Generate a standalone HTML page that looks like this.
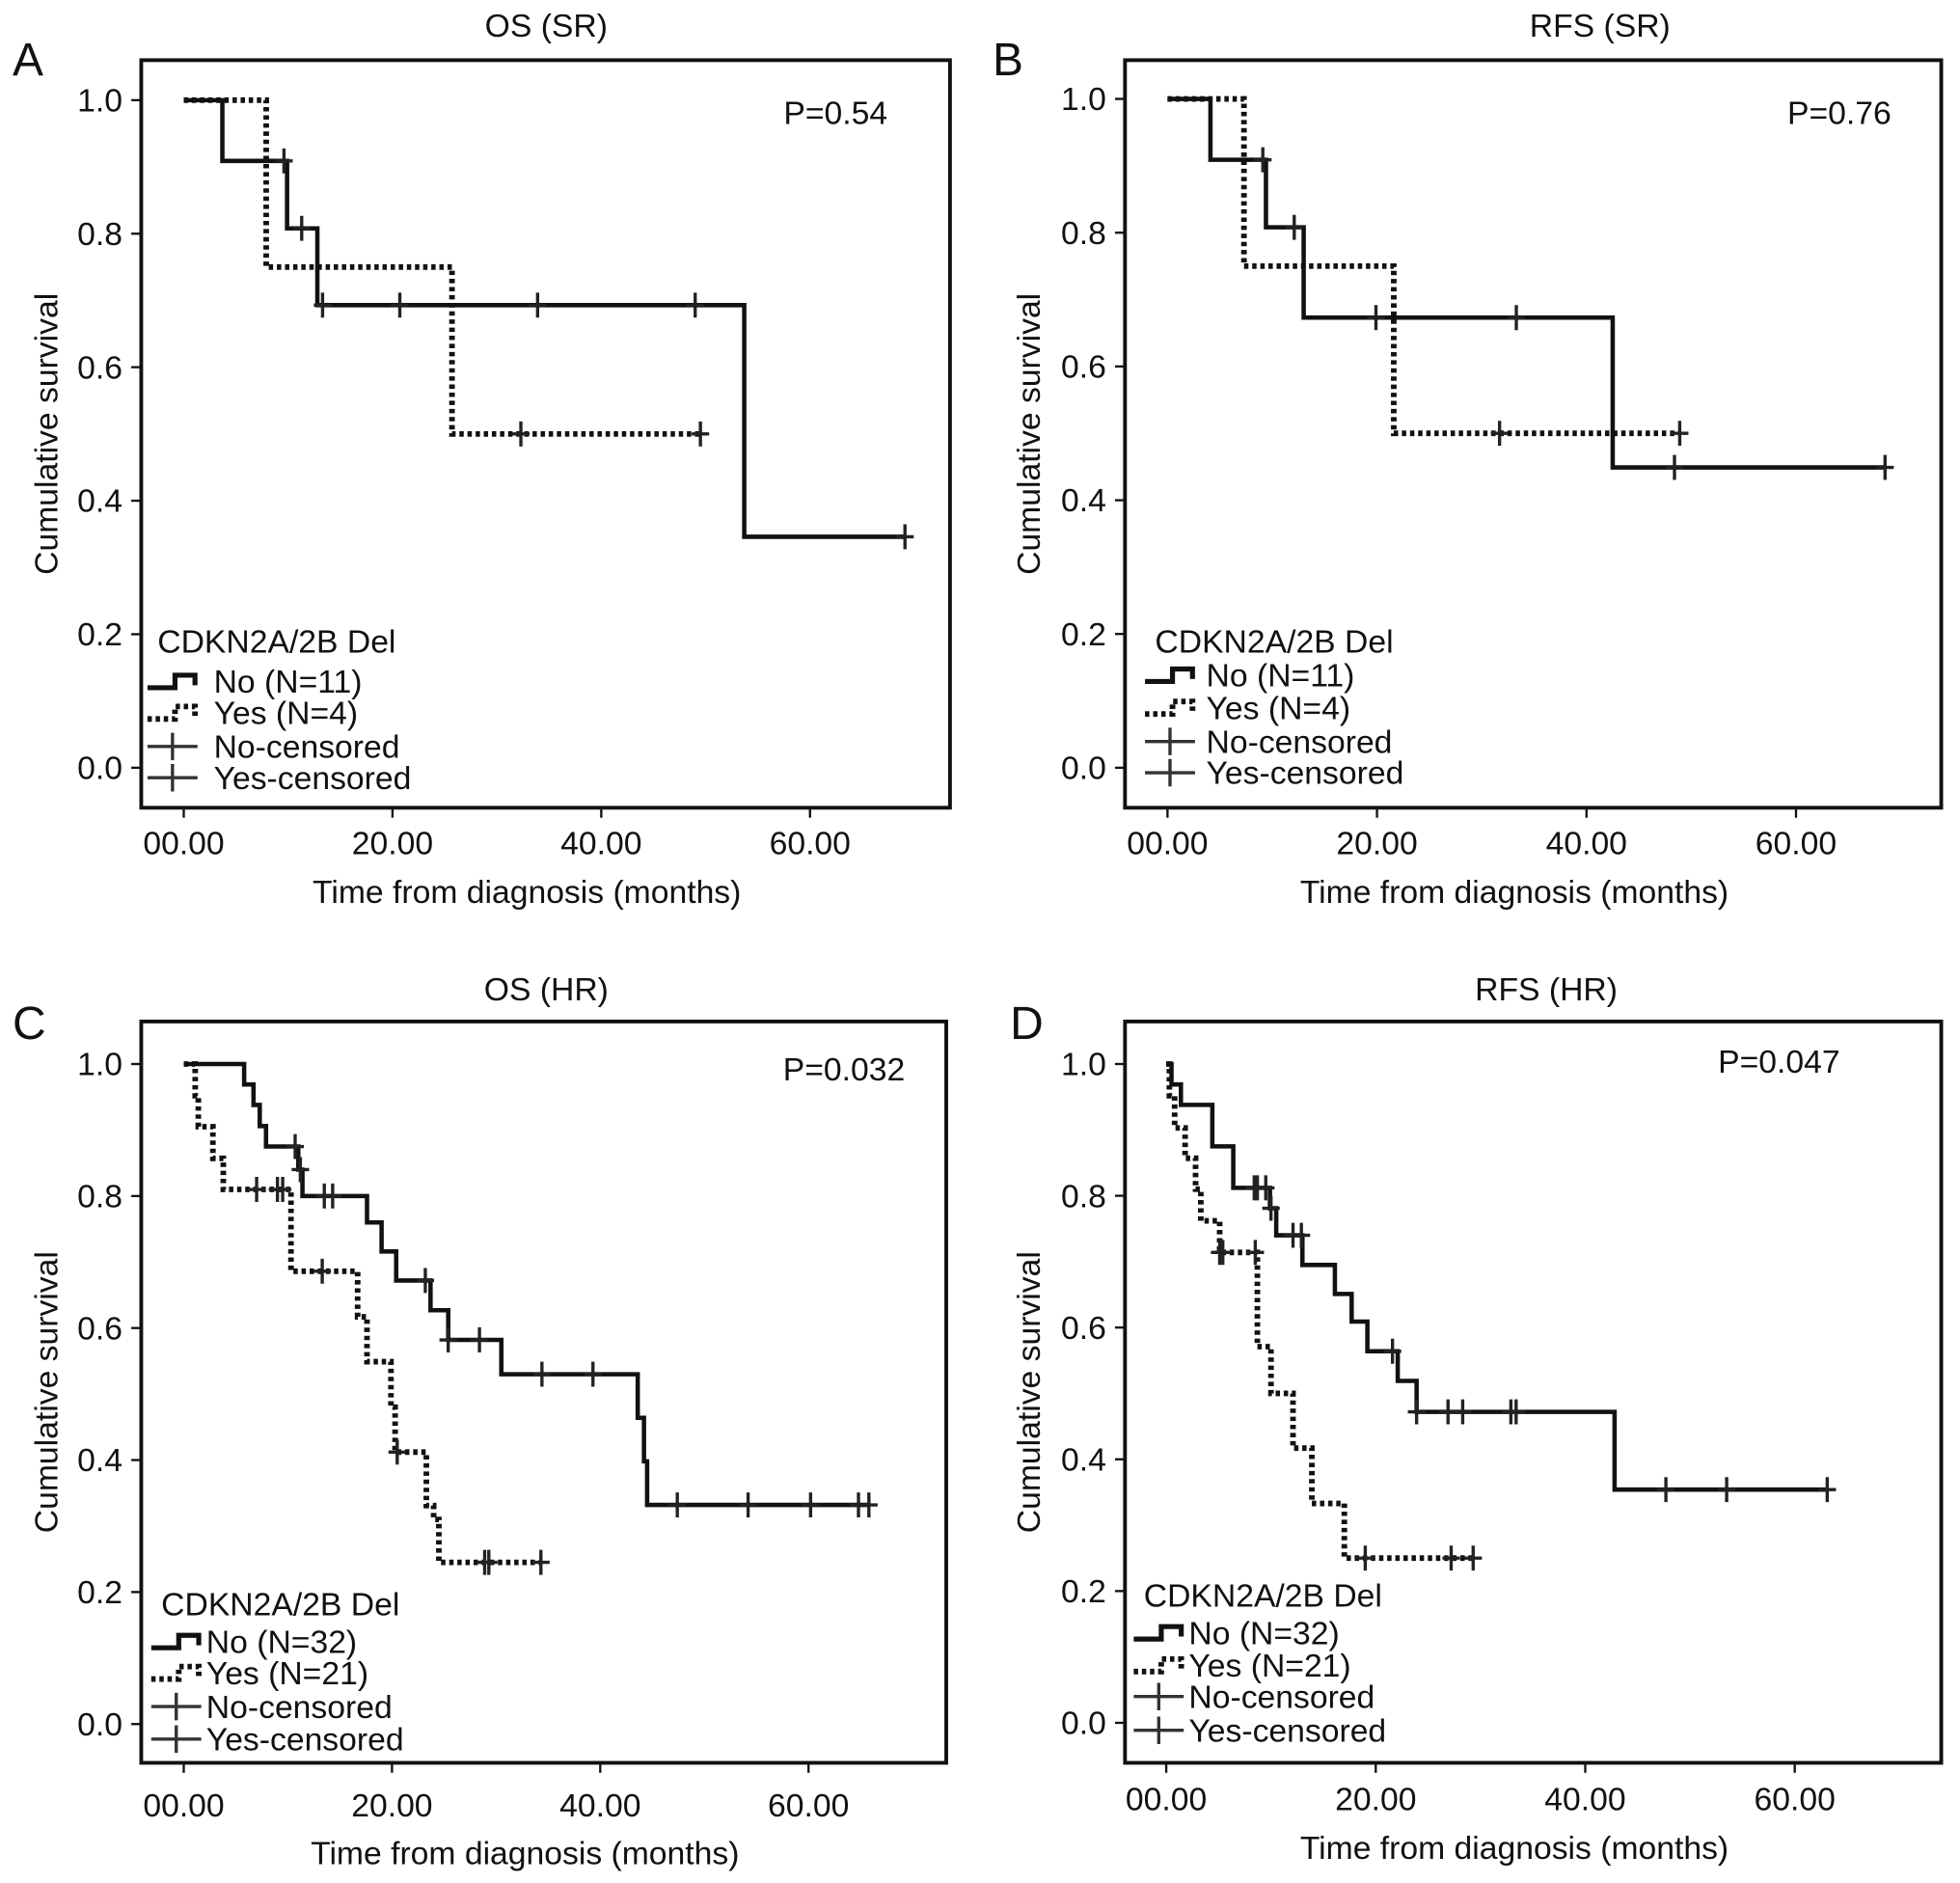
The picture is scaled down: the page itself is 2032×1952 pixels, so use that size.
<!DOCTYPE html>
<html><head><meta charset="utf-8"><style>
html,body{margin:0;padding:0;background:#fff;}
svg{display:block;}
text{font-family:"Liberation Sans",Arial,sans-serif;fill:#111;}
</style></head><body>
<svg id="fig" width="2032" height="1952" viewBox="0 0 1568 1506" xmlns="http://www.w3.org/2000/svg"></svg>
<script>
// ---- data (months, survival) ----
const xTicks = [0, 20, 40, 60];
const xTickLabels = ["00.00", "20.00", "40.00", "60.00"];
const yTicks = [0, 0.2, 0.4, 0.6, 0.8, 1.0];
const yTickLabels = ["0.0", "0.2", "0.4", "0.6", "0.8", "1.0"];

const aNoT = [3.7, 9.9, 12.8, 53.7];
const aNoS = [0.909, 0.808, 0.693, 0.346];
const aNoC = [9.6, 11.3, 13.3, 20.7, 33.9, 49.0, 69.1];
const aYesT = [7.9, 25.7];
const aYesS = [0.75, 0.5];
const aYesC = [32.3, 49.5];

const bNoT = [4.1, 9.4, 13.0, 42.5];
const bNoS = [0.909, 0.808, 0.673, 0.449];
const bNoC = [9.1, 12.1, 19.9, 33.3, 48.4, 68.5];
const bYesT = [7.3, 21.6];
const bYesS = [0.75, 0.5];
const bYesC = [31.7, 48.9];

const cNoT = [5.8, 6.7, 7.3, 7.9, 11.0, 11.4, 17.6, 19.0, 20.4, 23.7, 25.4, 30.5, 43.6, 44.2, 44.5];
const cNoS = [0.969, 0.938, 0.906, 0.875, 0.84, 0.80, 0.76, 0.716, 0.672, 0.627, 0.582, 0.530, 0.464, 0.398, 0.332];
const cNoC = [10.7, 11.2, 13.5, 14.3, 23.2, 25.4, 28.4, 34.4, 39.3, 47.4, 54.2, 60.2, 64.8, 65.8];
const cYesT = [1.1, 1.4, 2.8, 3.8, 10.3, 16.7, 17.6, 19.9, 20.3, 23.3, 24.0, 24.5];
const cYesS = [0.952, 0.905, 0.857, 0.81, 0.686, 0.617, 0.549, 0.48, 0.412, 0.331, 0.31, 0.245];
const cYesC = [7.0, 9.0, 9.5, 13.3, 20.5, 28.9, 29.3, 34.3];

const dNoT = [0.5, 1.4, 4.4, 6.4, 9.9, 10.5, 13.0, 16.1, 17.7, 19.2, 22.1, 23.9, 42.8];
const dNoS = [0.969, 0.938, 0.875, 0.812, 0.781, 0.74, 0.695, 0.651, 0.609, 0.564, 0.519, 0.472, 0.354];
const dNoC = [8.4, 8.7, 9.5, 10.0, 12.1, 12.9, 21.6, 23.9, 26.9, 28.3, 32.9, 33.4, 47.7, 53.5, 63.1];
const dYesT = [0.3, 0.8, 1.8, 2.8, 3.3, 5.1, 8.7, 10.0, 12.1, 13.9, 17.0];
const dYesS = [0.952, 0.903, 0.857, 0.81, 0.762, 0.714, 0.571, 0.5, 0.417, 0.333, 0.25];
const dYesC = [5.1, 5.4, 8.5, 19.0, 27.2, 29.3];

const panels = [
 {id:"a", letter:"A", title:"OS (SR)", p:"P=0.54", l:113,t:48,r:760,b:646,x0:147,ppm:8.35,y1:80,y0:614,
  noT:aNoT,noS:aNoS,noC:aNoC,yesT:aYesT,yesS:aYesS,yesC:aYesC, n1:"No (N=11)", n2:"Yes (N=4)",
  lx:118, ltx:171, lty:[513,545,570,597,622], px:710, py:90, tx:437, ly:47, lxL:10, ylx:37, xly:712, xty:673},
 {id:"b", letter:"B", title:"RFS (SR)", p:"P=0.76", l:900,t:48,r:1553,b:646,x0:934,ppm:8.38,y1:79,y0:614,
  noT:bNoT,noS:bNoS,noC:bNoC,yesT:bYesT,yesS:bYesS,yesC:bYesC, n1:"No (N=11)", n2:"Yes (N=4)",
  lx:916, ltx:965, lty:[513,540,566,593,618], px:1513, py:90, tx:1280, ly:47, lxL:794, ylx:823, xly:712, xty:673},
 {id:"c", letter:"C", title:"OS (HR)", p:"P=0.032", l:113,t:817,r:757,b:1410,x0:147,ppm:8.33,y1:851,y0:1379,
  noT:cNoT,noS:cNoS,noC:cNoC,yesT:cYesT,yesS:cYesS,yesC:cYesC, n1:"No (N=32)", n2:"Yes (N=21)",
  lx:121, ltx:165, lty:[1283,1313,1338,1365,1391], px:724, py:855, tx:437, ly:818, lxL:10, ylx:37, xly:1481, xty:1443},
 {id:"d", letter:"D", title:"RFS (HR)", p:"P=0.047", l:900,t:817,r:1553,b:1410,x0:933,ppm:8.38,y1:851,y0:1378,
  noT:dNoT,noS:dNoS,noC:dNoC,yesT:dYesT,yesS:dYesS,yesC:dYesC, n1:"No (N=32)", n2:"Yes (N=21)",
  lx:907, ltx:951, lty:[1276,1306,1332,1357,1384], px:1472, py:849, tx:1237, ly:818, lxL:808, ylx:823, xly:1477, xty:1438}
];

const NS = "http://www.w3.org/2000/svg";
const svg = document.getElementById("fig");
function mk(tag, attrs, parent, txt){
  const e = document.createElementNS(NS, tag);
  for (const k in attrs) e.setAttribute(k, attrs[k]);
  if (txt !== undefined) e.textContent = txt;
  parent.appendChild(e);
  return e;
}
function survAt(T, S, t){ let s = 1; for (let i=0;i<T.length;i++){ if (T[i] <= t) s = S[i]; } return s; }

const FS = 26;
panels.forEach(P => {
  const X = t => P.x0 + t*P.ppm;
  const Y = s => P.y0 - s*(P.y0-P.y1);
  const g = mk("g", {}, svg);
  
  

  let e = mk("text", {x:P.lxL, y:P.ly+13, "font-size":37}, g, P.letter);
  
  
  e = mk("text", {x:P.tx, y:P.ly-18, "font-size":FS, "text-anchor":"middle"}, g, P.title);
  
  

  e = mk("rect", {x:P.l, y:P.t, width:P.r-P.l, height:P.b-P.t, fill:"none", stroke:"#111", "stroke-width":3}, g);
  
  

  yTicks.forEach((v,i) => {
    const t = mk("line", {x1:P.l-8, x2:P.l, y1:Y(v), y2:Y(v), stroke:"#111", "stroke-width":1.8}, g);
    
    
    const lb = mk("text", {x:P.l-15, y:Y(v)+9, "font-size":FS, "text-anchor":"end"}, g, yTickLabels[i]);
    
    
  });
  xTicks.forEach((v,i) => {
    const t = mk("line", {x1:X(v), x2:X(v), y1:P.b, y2:P.b+8, stroke:"#111", "stroke-width":1.8}, g);
    
    
    const lb = mk("text", {x:X(v), y:P.xty+10, "font-size":FS, "text-anchor":"middle"}, g, xTickLabels[i]);
    
    
  });
  const cy = (P.t+P.b)/2;
  e = mk("text", {x:P.ylx+9, y:cy, "font-size":FS, "text-anchor":"middle", transform:"rotate(-90 "+(P.ylx+9)+" "+cy+")"}, g, "Cumulative survival");
  
  
  e = mk("text", {x:(P.l+P.r)/2 - 15, y:P.xly+10, "font-size":FS, "text-anchor":"middle"}, g, "Time from diagnosis (months)");
  
  
  e = mk("text", {x:P.px, y:P.py+9, "font-size":FS, "text-anchor":"end"}, g, P.p);
  
  

  function curve(T, S, C, dotted, name){
    let d = "M" + X(0) + " " + Y(1);
    for (let i=0;i<T.length;i++){ d += " H" + X(T[i]) + " V" + Y(S[i]); }
    const end = Math.max(T[T.length-1], C.length ? C[C.length-1] : 0);
    d += " H" + X(end);
    const p = mk("path", {d:d, fill:"none", stroke:"#111", "stroke-width":dotted?4.5:3.5,
      "stroke-dasharray":dotted?"3.5 3":"none"}, g);
    
    
    C.forEach(t => {
      const sv = survAt(T, S, t);
      const m = mk("path", {d:"M"+X(t)+" "+(Y(sv)-10)+" V"+(Y(sv)+10)+" M"+(X(t)-7)+" "+Y(sv)+" H"+(X(t)+7), stroke:"#222", "stroke-width":2.6, fill:"none"}, g);
      
      
    });
  }
  curve(P.noT, P.noS, P.noC, false, "no");
  curve(P.yesT, P.yesS, P.yesC, true, "yes");

  // legend
  const lg = mk("g", {}, g);
  
  
  const L = P.lty, lx = P.lx, tx = P.ltx;
  e = mk("text", {x:lx+8, y:L[0]+9, "font-size":FS}, lg, "CDKN2A/2B Del");
  
  
  e = mk("path", {d:"M"+lx+" "+(L[1]+5)+" H"+(lx+22)+" V"+(L[1]-5)+" H"+(lx+38)+" V"+(L[1]+3), fill:"none", stroke:"#111","stroke-width":4}, lg);
  
  
  e = mk("text", {x:tx, y:L[1]+9, "font-size":FS}, lg, P.n1);
  
  
  e = mk("path", {d:"M"+lx+" "+(L[2]+5)+" H"+(lx+22)+" V"+(L[2]-5)+" H"+(lx+38)+" V"+(L[2]+3), fill:"none", stroke:"#111","stroke-width":4.5,"stroke-dasharray":"3.5 3"}, lg);
  
  
  e = mk("text", {x:tx, y:L[2]+9, "font-size":FS}, lg, P.n2);
  
  
  [3,4].forEach(k => {
    const h = mk("path", {d:"M"+lx+" "+L[k]+" H"+(lx+40)+" M"+(lx+20)+" "+(L[k]-11)+" V"+(L[k]+11), fill:"none", stroke:"#333","stroke-width":2.6}, lg);
    
    
    const tt = mk("text", {x:tx, y:L[k]+9, "font-size":FS}, lg, k===3 ? "No-censored" : "Yes-censored");
    
    
  });
});
</script>
</body></html>
